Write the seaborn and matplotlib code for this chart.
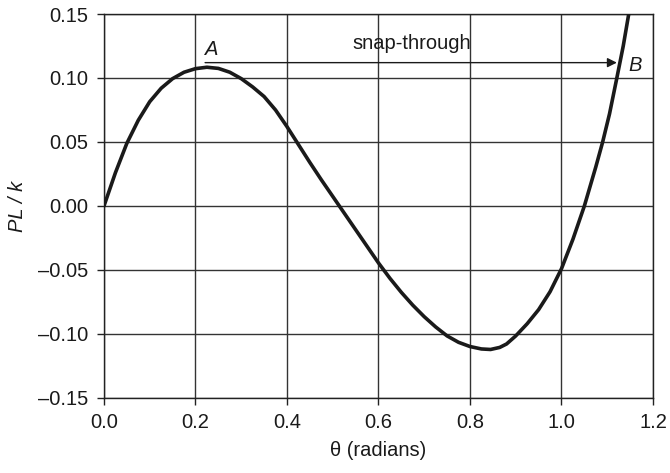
import matplotlib
matplotlib.use("Agg")
import matplotlib.pyplot as plt
import seaborn as sns
import pandas as pd

# curve: theta (radians) vs PL/k
theta = [0.000, 0.025, 0.050, 0.075, 0.100, 0.125, 0.150, 0.175, 0.200, 0.225,
         0.250, 0.275, 0.300, 0.325, 0.350, 0.375, 0.400, 0.425, 0.450, 0.475,
         0.500, 0.525, 0.550, 0.575, 0.600, 0.625, 0.650, 0.675, 0.700, 0.725,
         0.750, 0.775, 0.800, 0.825, 0.845, 0.865, 0.880, 0.900, 0.925, 0.950,
         0.975, 1.000, 1.025, 1.050, 1.075, 1.090, 1.105, 1.121, 1.135, 1.147]
plk = [0.0000, 0.0260, 0.0490, 0.0670, 0.0815, 0.0920, 0.0995, 0.1045, 0.1073, 0.1084,
       0.1075, 0.1045, 0.0995, 0.0930, 0.0855, 0.0750, 0.0620, 0.0480, 0.0340, 0.0205,
       0.0075, -0.0055, -0.0185, -0.0315, -0.0445, -0.0565, -0.0675, -0.0775, -0.0865, -0.0945,
       -0.1015, -0.1065, -0.1098, -0.1117, -0.1121, -0.1105, -0.1078, -0.1015, -0.0920, -0.0810,
       -0.0670, -0.0490, -0.0260, 0.0000, 0.0305, 0.0500, 0.0720, 0.1000, 0.1250, 0.1500]

xticks = [0.0, 0.2, 0.4, 0.6, 0.8, 1.0, 1.2]
yticks = [-0.15, -0.10, -0.05, 0.00, 0.05, 0.10, 0.15]

df = pd.DataFrame({"theta": theta, "plk": plk})

sns.set_theme(style="ticks")
plt.rcParams["font.family"] = ["Liberation Sans", "DejaVu Sans"]

fig = plt.figure(figsize=(6.7, 4.73), dpi=100)
ax = fig.add_axes([0.1552, 0.1586, 0.8194, 0.8118])

sns.lineplot(data=df, x="theta", y="plk", sort=False, estimator=None,
             color="#1a1a1a", linewidth=2.6, ax=ax, zorder=3)

ax.set_xlim(0, 1.2)
ax.set_ylim(-0.15, 0.15)
ax.set_xticks(xticks)
ax.set_yticks(yticks)
ax.set_xticklabels([f"{v:.1f}" for v in xticks])
ax.set_yticklabels([f"{v:.2f}".replace("-", "\u2013") for v in yticks])
ax.grid(True, color="#333333", linewidth=1.0)
for s in ax.spines.values():
    s.set_color("#222222")
    s.set_linewidth(1.0)
ax.tick_params(direction="out", length=5, width=1, colors="#222222",
               labelsize=14.5, labelcolor="#1a1a1a", pad=6)

ax.set_xlabel("\u03b8 (radians)", fontsize=14.5, color="#1a1a1a", labelpad=6)
ax.set_ylabel("PL / k", fontsize=14.5, style="italic", color="#1a1a1a", labelpad=8)

# snap-through arrow A -> B
ax.annotate("", xy=(1.121, 0.112), xytext=(0.221, 0.112),
            arrowprops=dict(arrowstyle="-|>", color="#1a1a1a", lw=1.0,
                            mutation_scale=14, shrinkA=0, shrinkB=0))
ax.text(0.673, 0.127, "snap-through", fontsize=14.5, ha="center", va="center",
        color="#1a1a1a")
ax.text(0.235, 0.1225, "A", fontsize=14.5, style="italic", ha="center",
        va="center", color="#1a1a1a")
ax.text(1.16, 0.110, "B", fontsize=14.5, style="italic", ha="center",
        va="center", color="#1a1a1a")

fig.savefig("out.png", dpi=100)
